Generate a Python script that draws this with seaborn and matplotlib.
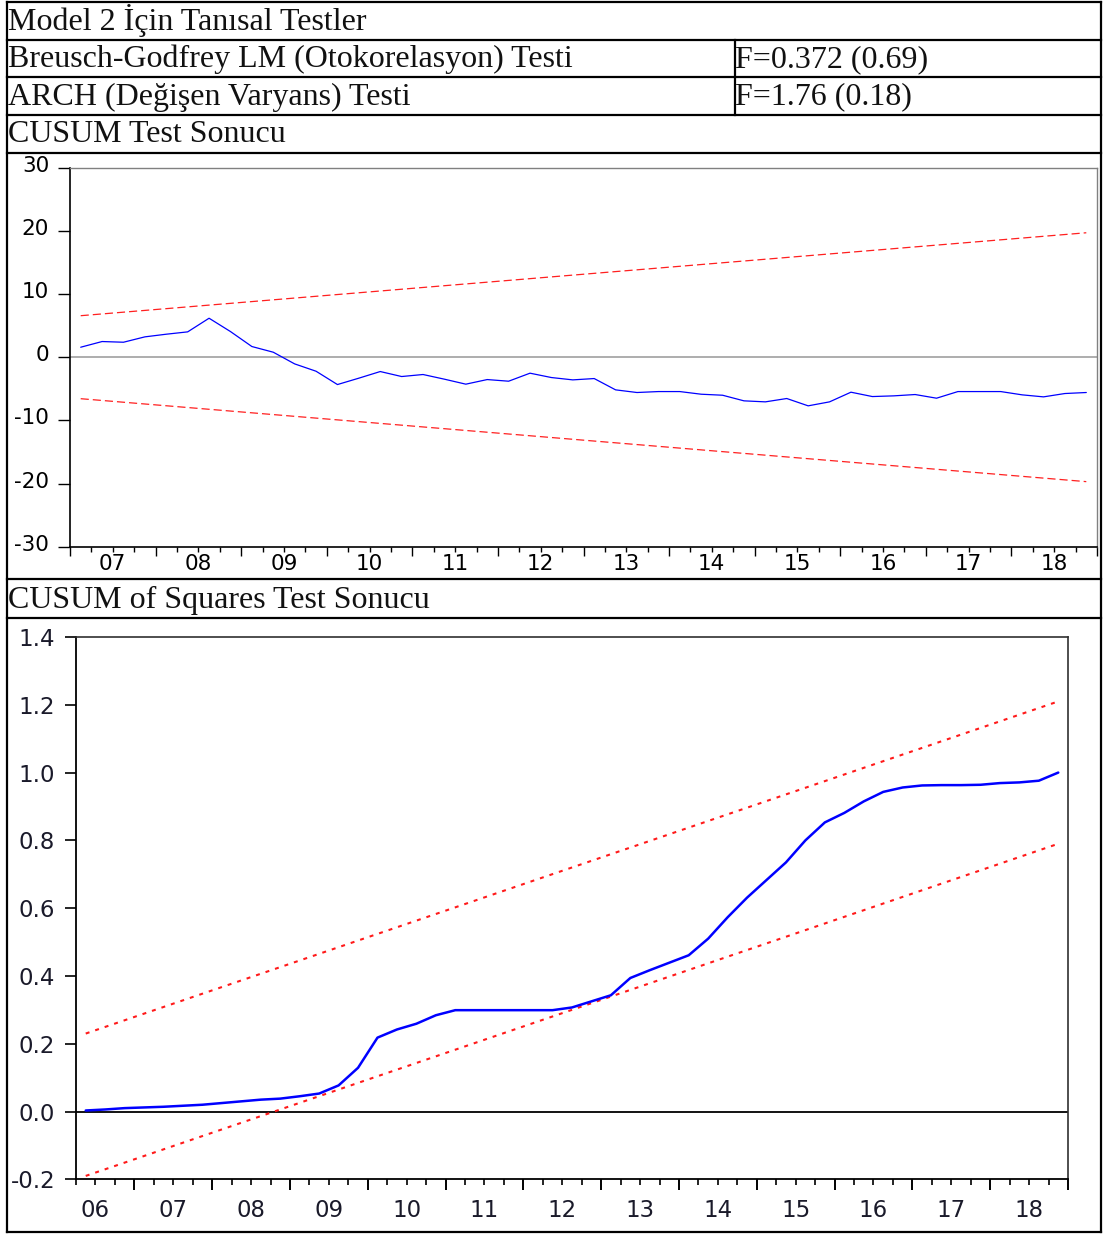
import numpy as np
import pandas as pd
import matplotlib
matplotlib.use("Agg")
import matplotlib.pyplot as plt
import matplotlib.transforms as mtransforms
from matplotlib.lines import Line2D
import seaborn as sns

# ---------------- data ----------------
title_text = "Model 2 İçin Tanısal Testler"
test_names = ["Breusch-Godfrey LM (Otokorelasyon) Testi", "ARCH (Değişen Varyans) Testi"]
test_results = ["F=0.372 (0.69)", "F=1.76 (0.18)"]
cusum_title = "CUSUM Test Sonucu"
cusumsq_title = "CUSUM of Squares Test Sonucu"

cusum_start = "2007Q1"
cusum_values = [1.58, 2.48, 2.37, 3.22, 3.64, 4.01, 6.17, 4.06, 1.69, 0.79,
                -1.06, -2.22, -4.33, -3.32, -2.27, -3.06, -2.74, -3.48, -4.27, -3.54,
                -3.80, -2.53, -3.22, -3.59, -3.38, -5.17, -5.59, -5.44, -5.44, -5.86,
                -6.02, -6.91, -7.07, -6.54, -7.70, -7.07, -5.54, -6.23, -6.12, -5.91,
                -6.49, -5.44, -5.44, -5.44, -5.96, -6.28, -5.75, -5.59]
cusum_upper = [6.57, 19.70]     # 5% band at first / last period
cusum_lower = [-6.57, -19.70]

cusumsq_start = "2006Q2"
cusumsq_values = [0.003, 0.006, 0.010, 0.012, 0.014, 0.017, 0.020, 0.025, 0.030, 0.035,
                  0.038, 0.045, 0.053, 0.077, 0.129, 0.218, 0.242, 0.259, 0.284, 0.299,
                  0.299, 0.299, 0.299, 0.299, 0.299, 0.307, 0.325, 0.343, 0.394, 0.417,
                  0.439, 0.461, 0.510, 0.573, 0.631, 0.683, 0.735, 0.800, 0.853, 0.881,
                  0.915, 0.943, 0.956, 0.962, 0.963, 0.963, 0.964, 0.969, 0.971, 0.976,
                  1.000]
cusumsq_upper = [0.230, 1.210]
cusumsq_lower = [-0.190, 0.790]

cusum_yticks = [-30, -20, -10, 0, 10, 20, 30]
cusumsq_yticks = [-0.2, 0.0, 0.2, 0.4, 0.6, 0.8, 1.0, 1.2, 1.4]


def quarter_x(start, n):
    per = pd.period_range(start, periods=n, freq="Q")
    return np.array([p.year + (p.quarter - 0.5) / 4.0 for p in per])


# ---------------- style ----------------
sns.set_theme(style="white")
plt.rcParams["font.family"] = ["DejaVu Sans"]
plt.rcParams["axes.unicode_minus"] = False

W, H = 1103, 1235
fig = plt.figure(figsize=(W / 100, H / 100), dpi=100)
fig.patch.set_facecolor("white")


def fx(px):
    return px / W


def fy(py):
    return 1 - py / H


def hline(y, x0=7, x1=1101, lw=1.6):
    fig.add_artist(Line2D([fx(x0), fx(x1)], [fy(y), fy(y)], transform=fig.transFigure,
                          color="black", lw=lw, solid_capstyle="projecting"))


def vline(x, y0, y1, lw=1.6):
    fig.add_artist(Line2D([fx(x), fx(x)], [fy(y0), fy(y1)], transform=fig.transFigure,
                          color="black", lw=lw, solid_capstyle="projecting"))


# table frame
for y in [2, 39.5, 77, 115, 153, 578.5, 618, 1232]:
    hline(y)
vline(7, 2, 1232)
vline(1101, 2, 1232)
vline(734.5, 39.5, 115)

serif = ["Liberation Serif", "DejaVu Serif"]
fs_head = 23
tc = "#111111"
fig.text(fx(8), fy(30), title_text, family=serif, fontsize=fs_head, va="baseline", ha="left", color=tc)
fig.text(fx(8), fy(67), test_names[0], family=serif, fontsize=fs_head, va="baseline", ha="left", color=tc)
fig.text(fx(735), fy(67), test_results[0], family=serif, fontsize=fs_head, va="baseline", ha="left", color=tc)
fig.text(fx(8), fy(104.5), test_names[1], family=serif, fontsize=fs_head, va="baseline", ha="left", color=tc)
fig.text(fx(735), fy(104.5), test_results[1], family=serif, fontsize=fs_head, va="baseline", ha="left", color=tc)
fig.text(fx(8), fy(142.5), cusum_title, family=serif, fontsize=fs_head, va="baseline", ha="left", color=tc)
fig.text(fx(8), fy(608), cusumsq_title, family=serif, fontsize=fs_head, va="baseline", ha="left", color=tc)

# ---------------- CUSUM chart ----------------
ax1 = fig.add_axes([fx(70), fy(546.7), (1097 - 70) / W, (546.7 - 167.7) / H])
x1 = quarter_x(cusum_start, len(cusum_values))
df1 = pd.DataFrame({"x": x1, "cusum": cusum_values})
bx1 = [x1[0], x1[-1]]
ax1.axhline(0, color="#a0a0a0", lw=1.2, zorder=1)
sns.lineplot(data=df1, x="x", y="cusum", ax=ax1, color="#0000ff", lw=0.9, zorder=3)
sns.lineplot(x=bx1, y=cusum_upper, ax=ax1, color="#ff2020", lw=0.9,
             linestyle=(0, (6.5, 3.2)), zorder=2)
sns.lineplot(x=bx1, y=cusum_lower, ax=ax1, color="#ff2020", lw=0.9,
             linestyle=(0, (6.5, 3.2)), zorder=2)
ax1.set_xlim(2007, 2019)
ax1.set_ylim(-30, 30)
ax1.set_xlabel("")
ax1.set_ylabel("")
ax1.set_yticks(cusum_yticks)
ax1.set_yticklabels([str(v) for v in cusum_yticks])
ax1.set_xticks(range(2007, 2020))
ax1.set_xticklabels([""] * 13)
q1 = np.arange(2007.0, 2019.0, 0.25)
ax1.set_xticks(q1, minor=True)
ax1.set_xticklabels([f"{int(q) % 100:02d}" if abs(q % 1 - 0.5) < 1e-9 else "" for q in q1],
                    minor=True)
ax1.tick_params(axis="y", which="major", direction="out", length=9, width=1.0,
                color="black", pad=6, labelsize=15.5, left=True, labelcolor="black")
ax1.tick_params(axis="x", which="major", direction="out", length=6.5, width=1.0,
                color="black", bottom=True)
ax1.tick_params(axis="x", which="minor", direction="out", length=3.6, width=1.0,
                color="black", pad=2, labelsize=15.5, bottom=True, labelcolor="black")
for s in ["left", "bottom"]:
    ax1.spines[s].set_color("black")
    ax1.spines[s].set_linewidth(1.2)
for s in ["top", "right"]:
    ax1.spines[s].set_color("#808080")
    ax1.spines[s].set_linewidth(1.0)
off = mtransforms.ScaledTranslation(0, 4 / 100, fig.dpi_scale_trans)
for lbl in ax1.get_yticklabels():
    lbl.set_transform(lbl.get_transform() + off)

# ---------------- CUSUM of squares chart ----------------
ax2 = fig.add_axes([fx(76), fy(1179.3), (1068 - 76) / W, (1179.3 - 637) / H])
x2 = quarter_x(cusumsq_start, len(cusumsq_values))
df2 = pd.DataFrame({"x": x2, "cusumsq": cusumsq_values})
bx2 = [x2[0], x2[-1]]
ax2.axhline(0, color="black", lw=1.3, zorder=1)
sns.lineplot(data=df2, x="x", y="cusumsq", ax=ax2, color="#0000ff", lw=1.8, zorder=3)
sns.lineplot(x=bx2, y=cusumsq_upper, ax=ax2, color="#ff1a1a", lw=1.5,
             linestyle=(0, (1.9, 2.9)), zorder=2)
sns.lineplot(x=bx2, y=cusumsq_lower, ax=ax2, color="#ff1a1a", lw=1.5,
             linestyle=(0, (1.9, 2.9)), zorder=2)
ax2.set_xlim(2006.25, 2019.0)
ax2.set_ylim(-0.2, 1.4)
ax2.set_xlabel("")
ax2.set_ylabel("")
ax2.set_yticks(cusumsq_yticks)
ax2.set_yticklabels([f"{v:.1f}" for v in cusumsq_yticks])
ax2.set_xticks(range(2007, 2020))
ax2.set_xticklabels([""] * 13)
q2 = np.arange(2006.25, 2019.0, 0.25)
ax2.set_xticks(q2, minor=True)
ax2.set_xticklabels([f"{int(q) % 100:02d}" if abs(q % 1 - 0.5) < 1e-9 else "" for q in q2],
                    minor=True)
ax2.tick_params(axis="y", which="major", direction="out", length=8, width=1.2,
                color="black", pad=7, labelsize=16.5, left=True, labelcolor="#1a1a2a")
ax2.tick_params(axis="x", which="major", direction="out", length=7.7, width=1.4,
                color="black", bottom=True)
ax2.tick_params(axis="x", which="minor", direction="out", length=4, width=1.2,
                color="black", pad=10, labelsize=16.5, bottom=True, labelcolor="#1a1a2a")
for s in ["left", "bottom"]:
    ax2.spines[s].set_color("black")
    ax2.spines[s].set_linewidth(1.3)
for s in ["top", "right"]:
    ax2.spines[s].set_color("#303030")
    ax2.spines[s].set_linewidth(1.2)

fig.savefig("out.png", dpi=100, facecolor="white")
